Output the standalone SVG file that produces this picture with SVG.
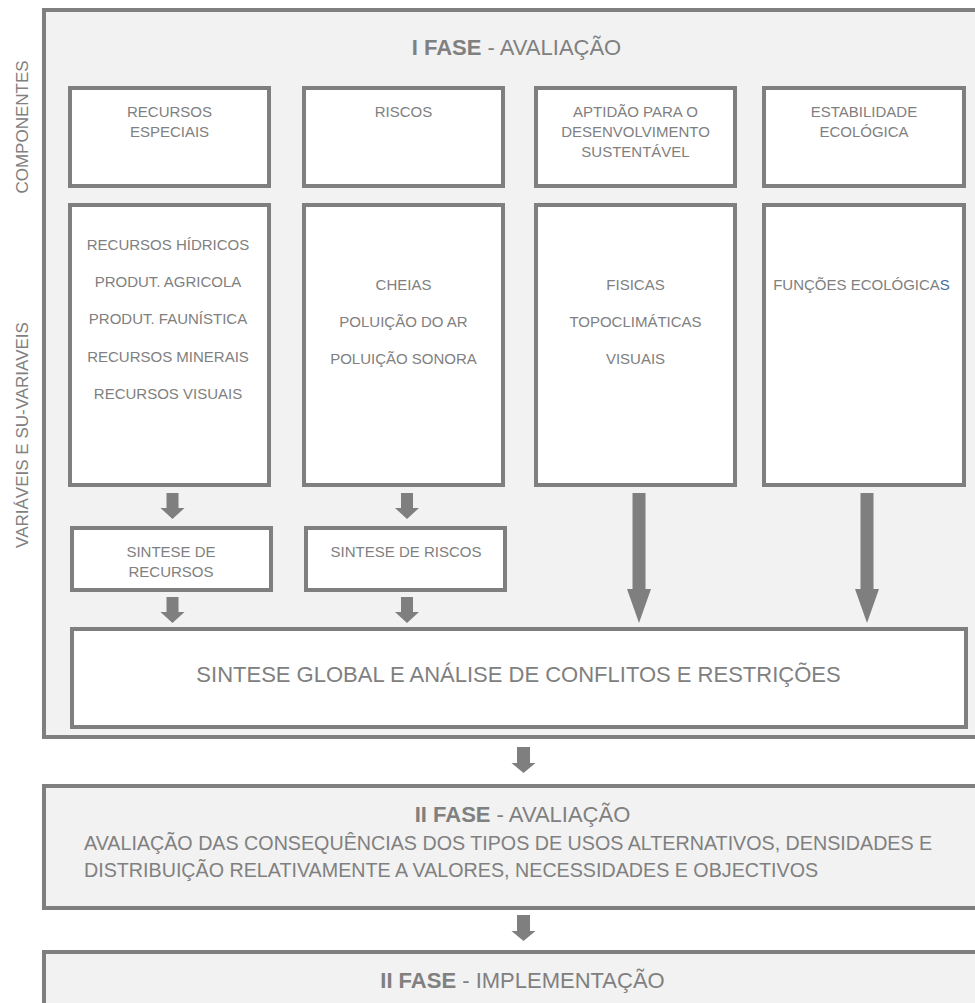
<svg xmlns="http://www.w3.org/2000/svg" width="975" height="1003" viewBox="0 0 975 1003">
  <style>
    .frame { fill: #f2f2f2; stroke: #7f7f7f; stroke-width: 4; }
    .box { fill: #ffffff; stroke: #7f7f7f; stroke-width: 4; }
    .t { font-family: "Liberation Sans", Arial, sans-serif; fill: #808080; }
    .s15 { font-size: 15px; text-anchor: middle; }
    .title { font-size: 22px; text-anchor: middle; }
    .side { font-size: 17px; text-anchor: middle; }
    .body { font-size: 19.7px; }
    .arrow { fill: #7f7f7f; }
    .blue { fill: #4a6b9d; }
  </style>

  <rect width="975" height="1003" fill="#ffffff"/>

  <!-- Phase I frame -->
  <g id="fase1">
    <rect class="frame" x="44" y="10" width="960" height="727"/>
    <text class="t title" x="516.5" y="55"><tspan font-weight="bold">I FASE</tspan> - AVALIAÇÃO</text>
  </g>

  <!-- Side labels -->
  <g id="label-componentes">
    <text class="t side" transform="translate(28 127) rotate(-90)">COMPONENTES</text>
  </g>
  <g id="label-variaveis">
    <text class="t side" transform="translate(28 435) rotate(-90)">VARIÁVEIS E SU-VARIAVEIS</text>
  </g>

  <!-- Components -->
  <g id="recursos-especiais">
    <rect class="box" x="70" y="88" width="199" height="98"/>
    <text class="t s15" x="169.5" y="117">RECURSOS</text>
    <text class="t s15" x="169.5" y="137">ESPECIAIS</text>
  </g>
  <g id="riscos">
    <rect class="box" x="304" y="88" width="199" height="98"/>
    <text class="t s15" x="403.5" y="117">RISCOS</text>
  </g>
  <g id="aptidao">
    <rect class="box" x="536" y="88" width="199" height="98"/>
    <text class="t s15" x="635.5" y="117">APTIDÃO PARA O</text>
    <text class="t s15" x="635.5" y="137">DESENVOLVIMENTO</text>
    <text class="t s15" x="635.5" y="157">SUSTENTÁVEL</text>
  </g>
  <g id="estabilidade">
    <rect class="box" x="764" y="88" width="200" height="98"/>
    <text class="t s15" x="864" y="117">ESTABILIDADE</text>
    <text class="t s15" x="864" y="137">ECOLÓGICA</text>
  </g>

  <!-- Variables and sub-variables -->
  <g id="var-recursos">
    <rect class="box" x="70" y="205" width="199" height="280"/>
    <text class="t s15" x="168" y="250">RECURSOS HÍDRICOS</text>
    <text class="t s15" x="168" y="287">PRODUT. AGRICOLA</text>
    <text class="t s15" x="168" y="324">PRODUT. FAUNÍSTICA</text>
    <text class="t s15" x="168" y="362">RECURSOS MINERAIS</text>
    <text class="t s15" x="168" y="399">RECURSOS VISUAIS</text>
  </g>
  <g id="var-riscos">
    <rect class="box" x="304" y="205" width="199" height="280"/>
    <text class="t s15" x="403.5" y="290">CHEIAS</text>
    <text class="t s15" x="403.5" y="327">POLUIÇÃO DO AR</text>
    <text class="t s15" x="403.5" y="364">POLUIÇÃO SONORA</text>
  </g>
  <g id="var-aptidao">
    <rect class="box" x="536" y="205" width="199" height="280"/>
    <text class="t s15" x="635.5" y="290">FISICAS</text>
    <text class="t s15" x="635.5" y="327">TOPOCLIMÁTICAS</text>
    <text class="t s15" x="635.5" y="364">VISUAIS</text>
  </g>
  <g id="var-estabilidade">
    <rect class="box" x="764" y="205" width="200" height="280"/>
    <text class="t s15" x="861.5" y="290">FUNÇÕES ECOLÓGICA<tspan class="blue">S</tspan></text>
  </g>

  <!-- Syntheses -->
  <g id="sintese-recursos">
    <rect class="box" x="72" y="528" width="199" height="62"/>
    <text class="t s15" x="171" y="557">SINTESE DE</text>
    <text class="t s15" x="171" y="577">RECURSOS</text>
  </g>
  <g id="sintese-riscos">
    <rect class="box" x="306" y="528" width="199" height="62"/>
    <text class="t s15" x="406" y="557">SINTESE DE RISCOS</text>
  </g>
  <g id="sintese-global">
    <rect class="box" x="72" y="629" width="894" height="98"/>
    <text class="t title" x="518.5" y="682">SINTESE GLOBAL E ANÁLISE DE CONFLITOS E RESTRIÇÕES</text>
  </g>

  <!-- Phase II -->
  <g id="fase2">
    <rect class="frame" x="44" y="786" width="960" height="122"/>
    <text class="t title" x="522.5" y="822"><tspan font-weight="bold">II FASE</tspan> - AVALIAÇÃO</text>
    <text class="t body" x="84" y="850">AVALIAÇÃO DAS CONSEQUÊNCIAS DOS TIPOS DE USOS ALTERNATIVOS, DENSIDADES E</text>
    <text class="t body" x="84" y="877">DISTRIBUIÇÃO RELATIVAMENTE A VALORES, NECESSIDADES E OBJECTIVOS</text>
  </g>

  <!-- Phase II implementation -->
  <g id="fase2-implementacao">
    <rect class="frame" x="44" y="952" width="960" height="100"/>
    <text class="t title" x="522.5" y="988"><tspan font-weight="bold">II FASE</tspan> - IMPLEMENTAÇÃO</text>
  </g>

  <!-- Connectors: block arrows -->
  <g id="connectors" class="arrow">
    <polygon points="166.5,493 178.5,493 178.5,508 184.5,508 172.5,519 160.5,508 166.5,508"/>
    <polygon points="401,493 413,493 413,508 419,508 407,519 395,508 401,508"/>
    <polygon points="166.5,597 178.5,597 178.5,612 184.5,612 172.5,623 160.5,612 166.5,612"/>
    <polygon points="401,597 413,597 413,612 419,612 407,623 395,612 401,612"/>
    <polygon points="632.5,493 645.5,493 645.5,589 651,589 639,623 627,589 632.5,589"/>
    <polygon points="860.5,493 873.5,493 873.5,589 879,589 867,623 855,589 860.5,589"/>
    <polygon points="517,747 530,747 530,763 535.5,763 523.5,773 511.5,763 517,763"/>
    <polygon points="517,915 530,915 530,931 535.5,931 523.5,941 511.5,931 517,931"/>
  </g>
</svg>
